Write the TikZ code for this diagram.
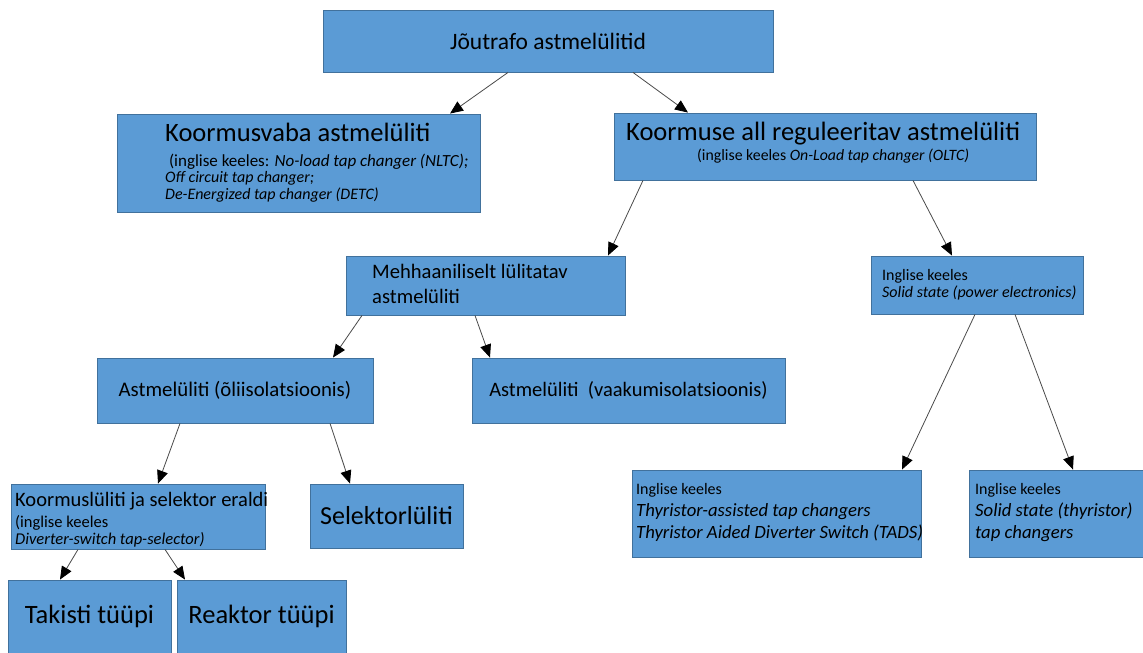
\documentclass[tikz,border=0pt]{standalone}
\usepackage{fontspec}
\setmainfont{Carlito}
\usetikzlibrary{arrows.meta,positioning}
\definecolor{boxbg}{HTML}{5B9BD5}
\definecolor{boxln}{HTML}{41719C}
\definecolor{arln}{HTML}{4A4A4A}
\newcommand\fsz[2]{\fontsize{#1}{#2}\selectfont}

\begin{document}
\begin{tikzpicture}[x=1pt, y=-1pt,
  box/.style={rectangle, draw=boxln, fill=boxbg, line width=0.9pt, inner sep=0pt},
  txt/.style={inner sep=0pt, align=left},
  ar/.style={-{Triangle[length=13pt,width=11pt,black]}, arln, line width=0.8pt}]

  \useasboundingbox (0,0) rectangle (1143,653);

  % top
  \node[box, minimum width=450, minimum height=62, font=\fsz{23.5}{28}] (top) at (548,41) {Jõutrafo astmelülitid};
  % level 1
  \node[box, minimum width=363, minimum height=98] (nolo) at (298.5,163) {};
  \node[txt, anchor=base west, font=\fsz{16}{16.3}] (nolotx) at (165,199) {\fsz{26.5}{30}Koormusvaba astmelüliti\\[8.5pt]
    \fsz{17}{16.3}\ (inglise keeles: \textit{No-load tap changer (NLTC);}\\
    \textit{Off circuit tap changer;}\\
    \textit{De-Energized tap changer (DETC)}};
  \node[box, minimum width=422, minimum height=67] (onlo) at (825,146.5) {};
  \node[txt, anchor=base west, font=\fsz{15.8}{20}] (onlotx) at (626,160) {\fsz{26.5}{30}Koormuse all reguleeritav astmelüliti\\
    \hspace{71pt}(inglise keeles \textit{On-Load tap changer (OLTC)}};
  % level 2
  \node[box, minimum width=279, minimum height=59] (mech) at (485.5,285.5) {};
  \node[txt, anchor=base west, font=\fsz{20.6}{25}] (mechtx) at (372,303) {Mehhaaniliselt lülitatav\\astmelüliti};
  \node[box, minimum width=212, minimum height=58] (solid) at (977,285) {};
  \node[txt, anchor=base west, font=\fsz{16}{17}] (solidtx) at (882,297) {Inglise keeles\\\textit{Solid state (power electronics)}};
  % level 3
  \node[box, minimum width=276, minimum height=65, font=\fsz{20.8}{25}] (oil) at (235,390.5) {Astmelüliti (õliisolatsioonis)};
  \node[box, minimum width=313, minimum height=65, font=\fsz{20.5}{25}] (vac) at (628.5,390.5) {\raisebox{3pt}{Astmelüliti\ \ (vaakumisolatsioonis)}};
  % level 4
  \node[box, minimum width=254, minimum height=65] (div) at (138,516.5) {};
  \node[txt, anchor=base west, font=\fsz{16.5}{17}] (divtx) at (15,544) {\fsz{20.5}{24}Koormuslüliti ja selektor eraldi\\[4pt]
    (inglise keeles\\
    \textit{Diverter-switch tap-selector)}};
  \node[box, minimum width=153, minimum height=64, font=\fsz{26}{30}] (sel) at (386.5,516) {Selektorlüliti};
  \node[box, minimum width=289, minimum height=87] (thy) at (776.5,513.5) {};
  \node[txt, anchor=base west, font=\fsz{18.7}{22}] (thytx) at (636,538) {\fsz{16}{20}Inglise keeles\\
    \textit{Thyristor-assisted tap changers}\\
    \textit{Thyristor Aided Diverter Switch (TADS)}};
  \node[box, minimum width=174, minimum height=87] (sst) at (1056,513.5) {};
  \node[txt, anchor=base west, font=\fsz{18.7}{22}] (ssttx) at (975,538) {\fsz{16}{20}Inglise keeles\\
    \textit{Solid state (thyristor)}\\
    \textit{tap changers}};
  % level 5
  \node[box, minimum width=163, minimum height=73, font=\fsz{26.5}{30}] (res) at (89.5,616.5) {Takisti tüüpi};
  \node[box, minimum width=169, minimum height=73, font=\fsz{26.5}{30}] (rea) at (261.5,616.5) {Reaktor tüüpi};

  \draw[ar] ([xshift=-40pt]top.south) -- ([xshift=151.5pt]nolo.north);
  \draw[ar] ([xshift=85pt]top.south) -- ([xshift=-137pt]onlo.north);
  \draw[ar] ([xshift=-182pt]onlo.south) -- ([xshift=122.5pt]mech.north);
  \draw[ar] ([xshift=88pt]onlo.south) -- ([xshift=-25pt]solid.north);
  \draw[ar] ([xshift=-123.5pt]mech.south) -- ([xshift=98pt]oil.north);
  \draw[ar] ([xshift=-10.5pt]mech.south) -- ([xshift=-138.5pt]vac.north);
  \draw[ar] ([xshift=-2pt]solid.south) -- ([xshift=125.5pt]thy.north);
  \draw[ar] ([xshift=38pt]solid.south) -- ([xshift=17pt]sst.north);
  \draw[ar] ([xshift=-55pt]oil.south) -- ([xshift=20pt]div.north);
  \draw[ar] ([xshift=95pt]oil.south) -- ([xshift=-36.5pt]sel.north);
  \draw[ar] ([xshift=-60pt]div.south) -- ([xshift=-29.5pt]res.north);
  \draw[ar] ([xshift=27pt]div.south) -- ([xshift=-76.5pt]rea.north);
\end{tikzpicture}
\end{document}
